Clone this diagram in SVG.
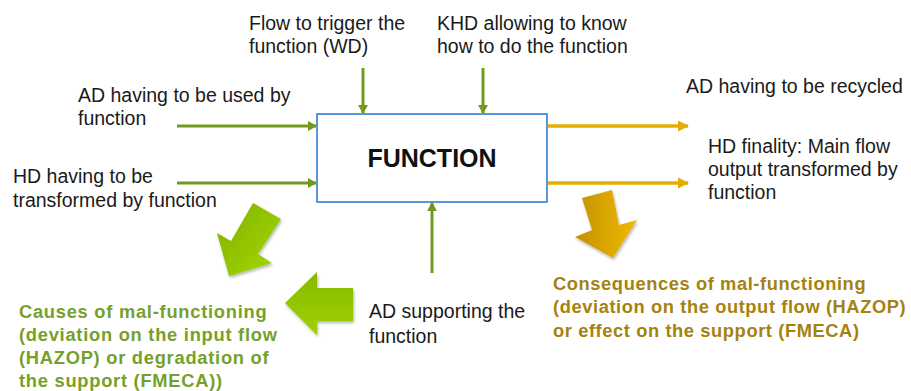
<svg xmlns="http://www.w3.org/2000/svg" width="911" height="391" viewBox="0 0 911 391">
<defs>
<style>
.t{font-family:"Liberation Sans",Arial,sans-serif;font-size:19.5px;fill:#1a1a1a}
.g{font-family:"Liberation Sans",Arial,sans-serif;font-size:18.3px;font-weight:bold;fill:#76a02a;letter-spacing:0.75px}
.o{font-family:"Liberation Sans",Arial,sans-serif;font-size:18.3px;font-weight:bold;fill:#a5820e;letter-spacing:0.6px}
.gl{stroke:#70991e;stroke-width:3;fill:none}
.ol{stroke:#e6ac00;stroke-width:3.5;fill:none}
</style>
<marker id="mg" markerWidth="10" markerHeight="10" refX="8" refY="5" orient="auto" markerUnits="userSpaceOnUse">
<path d="M0,0 L9,5 L0,10 Z" fill="#70991e"/>
</marker>
<marker id="mo" markerWidth="12" markerHeight="12" refX="10" refY="6" orient="auto" markerUnits="userSpaceOnUse">
<path d="M0,0.5 L11,6 L0,11.5 Z" fill="#e6ac00"/>
</marker>
<linearGradient id="gg" x1="0" y1="0" x2="1" y2="1">
<stop offset="0" stop-color="#7fb000"/>
<stop offset="1" stop-color="#a6d900"/>
</linearGradient>
<linearGradient id="gl2" x1="0" y1="0" x2="0" y2="1">
<stop offset="0" stop-color="#86b900"/>
<stop offset="1" stop-color="#9fd200"/>
</linearGradient>
<linearGradient id="og" x1="0" y1="0" x2="1" y2="0">
<stop offset="0" stop-color="#c39200"/>
<stop offset="1" stop-color="#f0b900"/>
</linearGradient>
<filter id="sh" x="-20%" y="-20%" width="150%" height="150%">
<feGaussianBlur in="SourceAlpha" stdDeviation="1.5"/>
<feOffset dx="1" dy="2" result="b"/>
<feComponentTransfer><feFuncA type="linear" slope="0.3"/></feComponentTransfer>
<feMerge><feMergeNode/><feMergeNode in="SourceGraphic"/></feMerge>
</filter>
</defs>
<rect width="911" height="391" fill="#ffffff"/>

<g id="function">
<rect x="317" y="114" width="230" height="88" fill="#ffffff" stroke="#2e7fd3" stroke-width="1.6"/>
<text x="432" y="167" text-anchor="middle" style="font-family:'Liberation Sans',Arial,sans-serif;font-size:25px;font-weight:bold;fill:#111">FUNCTION</text>
</g>

<g id="connectors">
<line class="gl" x1="177" y1="126" x2="316" y2="126" marker-end="url(#mg)"/>
<line class="gl" x1="177" y1="183" x2="316" y2="183" marker-end="url(#mg)"/>
<line class="gl" x1="363" y1="68" x2="363" y2="113" marker-end="url(#mg)"/>
<line class="gl" x1="483" y1="68" x2="483" y2="113" marker-end="url(#mg)"/>
<line class="gl" x1="432" y1="273" x2="432" y2="203" marker-end="url(#mg)"/>
<line class="ol" x1="548" y1="126" x2="688" y2="126" marker-end="url(#mo)"/>
<line class="ol" x1="548" y1="183" x2="688" y2="183" marker-end="url(#mo)"/>
</g>

<g id="label-ad-used">
<text class="t" x="78" y="102">AD having to be used by</text>
<text class="t" x="78" y="125">function</text>
</g>
<g id="label-hd-transformed">
<text class="t" x="13" y="183">HD having to be</text>
<text class="t" x="13" y="207">transformed by function</text>
</g>
<g id="label-trigger">
<text class="t" x="249" y="30">Flow to trigger the</text>
<text class="t" x="249" y="53">function (WD)</text>
</g>
<g id="label-khd">
<text class="t" x="437" y="30">KHD allowing to know</text>
<text class="t" x="437" y="53">how to do the function</text>
</g>
<g id="label-ad-recycled">
<text class="t" x="686" y="93">AD having to be recycled</text>
</g>
<g id="label-hd-finality">
<text class="t" x="708" y="153">HD finality: Main flow</text>
<text class="t" x="708" y="176">output transformed by</text>
<text class="t" x="708" y="199">function</text>
</g>
<g id="label-ad-support">
<text class="t" x="369" y="318">AD supporting the</text>
<text class="t" x="369" y="343">function</text>
</g>

<g id="big-arrows">
<polygon points="253,203 281,219 258,254 272,263 229,276 217,233 231,241" fill="url(#gg)" filter="url(#sh)"/>
<polygon points="285,303 317,272 317,288 353,288 353,321 317,321 317,335" fill="url(#gl2)" filter="url(#sh)"/>
<polygon points="582,198 612,190 619,225 637,220 613,258 575,237 592,230" fill="url(#og)" filter="url(#sh)"/>
</g>

<g id="causes">
<text class="g" x="19" y="318">Causes of mal-functioning</text>
<text class="g" x="19" y="341">(deviation on the input flow</text>
<text class="g" x="19" y="364">(HAZOP) or degradation of</text>
<text class="g" x="19" y="387">the support (FMECA))</text>
</g>
<g id="consequences">
<text class="o" x="553" y="290">Consequences of mal-functioning</text>
<text class="o" x="553" y="313">(deviation on the output flow (HAZOP)</text>
<text class="o" x="553" y="337">or effect on the support (FMECA)</text>
</g>
</svg>
